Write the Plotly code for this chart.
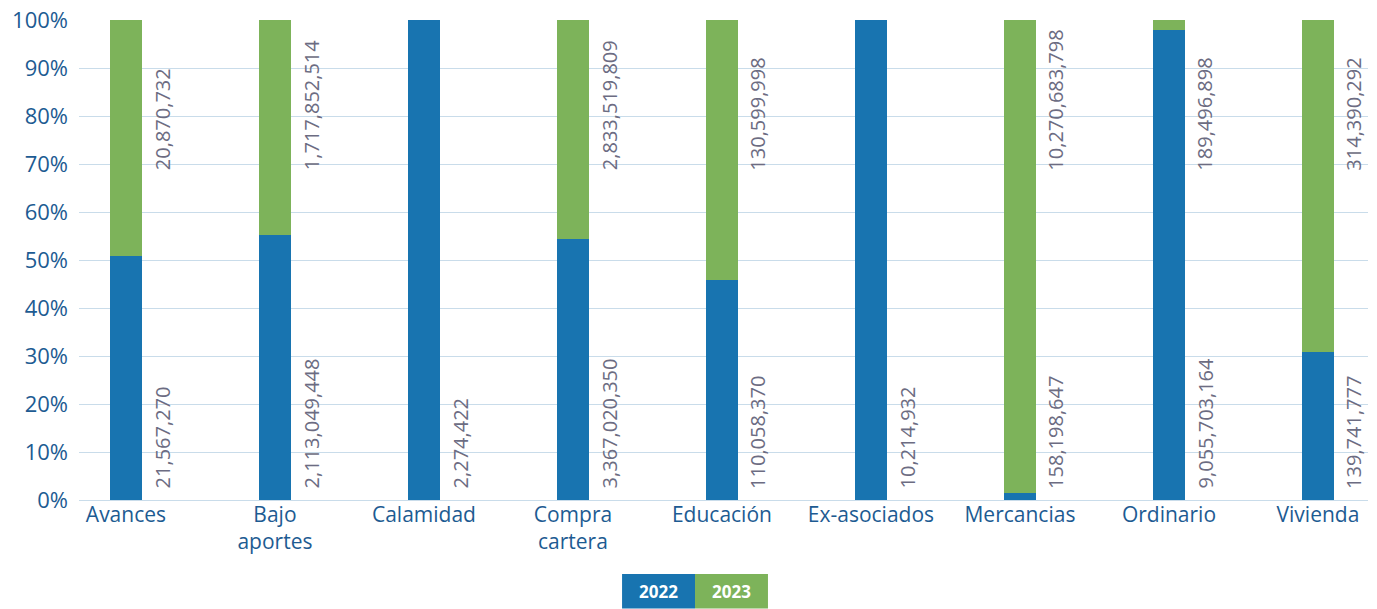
import plotly.graph_objects as go

categorias = ["Avances", "Bajo<br>aportes", "Calamidad", "Compra<br>cartera", "Educación",
              "Ex-asociados", "Mercancias", "Ordinario", "Vivienda"]
valores_2022 = [21567270, 2113049448, 2274422, 3367020350, 110058370,
                10214932, 158198647, 9055703164, 139741777]
valores_2023 = [20870732, 1717852514, 0, 2833519809, 130599998,
                0, 10270683798, 189496898, 314390292]
ticks_y = [0, 10, 20, 30, 40, 50, 60, 70, 80, 90, 100]
etiquetas_y = [f"{t}%" for t in ticks_y]

AZUL = "#1874b0"
VERDE = "#7db35a"
TEXTO_EJE = "#1d5b92"
TEXTO_VALOR = "#6c6c82"
FUENTE = "Open Sans"

x_idx = list(range(len(categorias)))

fig = go.Figure()
fig.add_trace(go.Bar(x=x_idx, y=valores_2022, name="2022", marker_color=AZUL,
                     width=0.215, hoverinfo="y", marker_line_width=0))
fig.add_trace(go.Bar(x=x_idx, y=valores_2023, name="2023", marker_color=VERDE,
                     width=0.215, hoverinfo="y", marker_line_width=0))

# Etiquetas de valor verticales junto a cada barra
for i in x_idx:
    fig.add_annotation(x=i + 0.242, y=2, xref="x", yref="y",
                       text=f"{valores_2022[i]:,}", textangle=-90, showarrow=False,
                       xanchor="center", yanchor="bottom",
                       font=dict(family=FUENTE, size=20, color=TEXTO_VALOR))
    if valores_2023[i]:
        fig.add_annotation(x=i + 0.242, y=68.3, xref="x", yref="y",
                           text=f"{valores_2023[i]:,}", textangle=-90, showarrow=False,
                           xanchor="center", yanchor="bottom",
                           font=dict(family=FUENTE, size=20, color=TEXTO_VALOR))

# Leyenda en forma de bloques de color
leyenda = [("2022", AZUL, 0.4213, 0.4779), ("2023", VERDE, 0.4779, 0.5345)]
for nombre, color, x0, x1 in leyenda:
    fig.add_shape(type="rect", xref="paper", yref="paper", x0=x0, x1=x1,
                  y0=-0.226, y1=-0.1542, fillcolor=color, line_width=0, layer="above")
    fig.add_annotation(x=(x0 + x1) / 2, y=-0.19, xref="paper", yref="paper",
                       text=f"<b>{nombre}</b>", showarrow=False,
                       xanchor="center", yanchor="middle",
                       font=dict(family=FUENTE, size=17, color="white"))

fig.update_layout(
    barmode="stack",
    barnorm="percent",
    width=1377, height=609,
    margin=dict(l=79, r=9, t=20, b=109, autoexpand=False),
    paper_bgcolor="white",
    plot_bgcolor="white",
    showlegend=False,
    font=dict(family=FUENTE, color=TEXTO_EJE, size=21),
)
fig.update_xaxes(
    tickmode="array", tickvals=x_idx, ticktext=categorias, automargin=False,
    range=[-0.315, 8.336], showgrid=False, zeroline=False, showline=False,
    ticks="", tickfont=dict(family=FUENTE, size=21, color=TEXTO_EJE),
)
fig.update_yaxes(
    range=[0, 100], tickmode="array", tickvals=ticks_y, ticktext=etiquetas_y,
    automargin=False,
    showgrid=True, gridcolor="#c9dcea", gridwidth=1,
    zeroline=True, zerolinecolor="#c9dcea", zerolinewidth=1,
    showline=False, ticks="", ticklabelstandoff=10,
    tickfont=dict(family=FUENTE, size=22, color=TEXTO_EJE),
)

fig.write_html("out.html")
